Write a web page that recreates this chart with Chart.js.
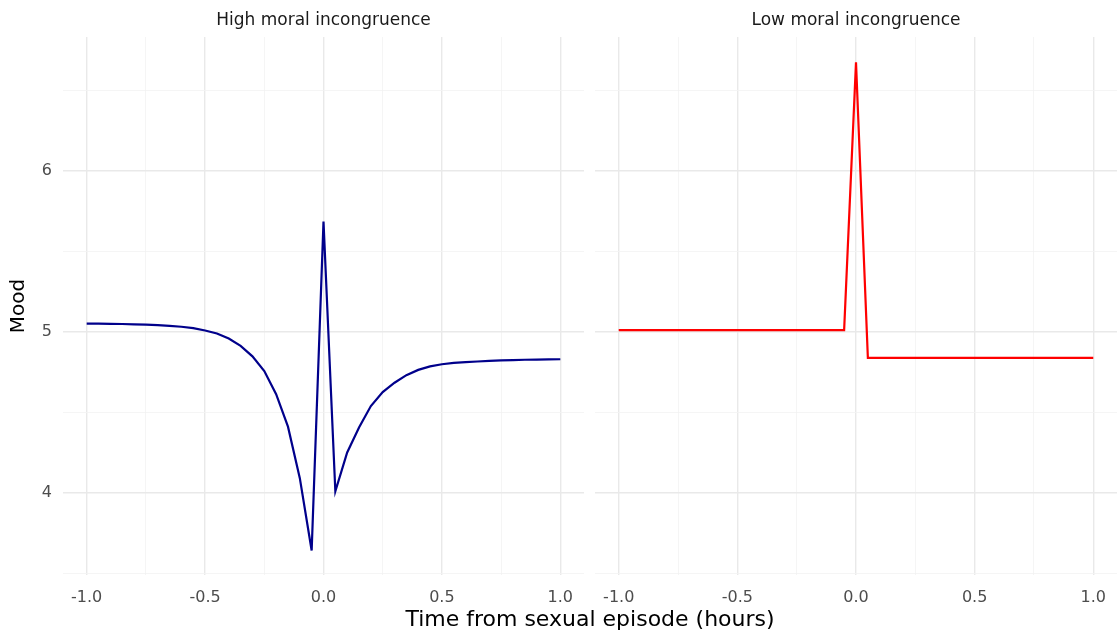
<!DOCTYPE html>
<html>
<head>
<meta charset="utf-8">
<script src="https://cdn.jsdelivr.net/npm/chart.js@4.4.1/dist/chart.umd.min.js"></script>
<style>
  html, body { margin: 0; padding: 0; background: #ffffff; }
  #wrap { position: relative; width: 1117px; height: 634px; overflow: hidden; }
  #cLeft { position: absolute; left: 0; top: 0; }
  #cRight { position: absolute; left: 595px; top: 0; }
  #xTitle { position: absolute; left: 63px; width: 1054px; top: 608px; text-align: center;
            font: 22px "DejaVu Sans", sans-serif; line-height: 22px; color: #000; white-space: nowrap; }
</style>
</head>
<body>
<div id="wrap">
  <canvas id="cLeft" width="584" height="634"></canvas>
  <canvas id="cRight" width="522" height="634"></canvas>
  <div id="xTitle">Time from sexual episode (hours)</div>
</div>
<script>
// ---- data ----
const panelTitles = ["High moral incongruence", "Low moral incongruence"];
const timeHours = [-1.00,-0.95,-0.90,-0.85,-0.80,-0.75,-0.70,-0.65,-0.60,-0.55,-0.50,-0.45,-0.40,-0.35,-0.30,-0.25,-0.20,-0.15,-0.10,-0.05,
                   0.00,0.05,0.10,0.15,0.20,0.25,0.30,0.35,0.40,0.45,0.50,0.55,0.60,0.65,0.70,0.75,0.80,0.85,0.90,0.95,1.00];
const moodHigh = [5.050,5.050,5.049,5.048,5.046,5.044,5.041,5.037,5.031,5.022,5.008,4.989,4.958,4.912,4.847,4.756,4.612,4.410,4.090,3.640,
                  5.685,4.008,4.250,4.405,4.538,4.625,4.683,4.730,4.763,4.785,4.798,4.806,4.811,4.815,4.819,4.822,4.824,4.826,4.827,4.828,4.829];
const moodLow  = [5.010,5.010,5.010,5.010,5.010,5.010,5.010,5.010,5.010,5.010,5.010,5.010,5.010,5.010,5.010,5.010,5.010,5.010,5.010,5.010,
                  6.675,4.838,4.838,4.838,4.838,4.838,4.838,4.838,4.838,4.838,4.838,4.838,4.838,4.838,4.838,4.838,4.838,4.838,4.838,4.838,4.838];
const xMajorTicks = [-1.0, -0.5, 0.0, 0.5, 1.0];
const yMajorTicks = [4, 5, 6];
const yAxisTitle = "Mood";

const X_MIN = -1.1, X_MAX = 1.1, Y_MIN = 3.488, Y_MAX = 6.832;
const FONT = '"DejaVu Sans", sans-serif';

function isMajorX(v) { return xMajorTicks.some(t => Math.abs(t - v) < 1e-9); }
function isMajorY(v) { return yMajorTicks.some(t => Math.abs(t - v) < 1e-9); }

const stripPlugin = {
  id: 'strip',
  afterDraw(chart, args, opts) {
    const {ctx, chartArea} = chart;
    ctx.save();
    ctx.font = '17px ' + FONT;
    ctx.fillStyle = '#1a1a1a';
    ctx.textAlign = 'center';
    ctx.textBaseline = 'middle';
    ctx.fillText(opts.text, (chartArea.left + chartArea.right) / 2, 21);
    ctx.restore();
  }
};

function makeChart(canvasId, values, color, title, showY) {
  const pts = timeHours.map((t, i) => ({x: t, y: values[i]}));
  return new Chart(document.getElementById(canvasId), {
    type: 'line',
    data: { datasets: [{ data: pts, borderColor: color, borderWidth: 2.2, pointRadius: 0, tension: 0, fill: false }] },
    options: {
      responsive: false, animation: false,
      layout: { padding: { top: 37, left: 0, right: 0, bottom: 0 } },
      plugins: { legend: { display: false }, tooltip: { enabled: false }, strip: { text: title } },
      scales: {
        x: {
          type: 'linear', min: X_MIN, max: X_MAX,
          border: { display: false },
          grid: {
            drawTicks: false,
            color: c => isMajorX(c.tick.value) ? '#e9e9e9' : '#f2f2f2',
            lineWidth: c => isMajorX(c.tick.value) ? 1.4 : 0.8
          },
          ticks: {
            stepSize: 0.25, includeBounds: false, autoSkip: false, maxRotation: 0,
            padding: 13, color: '#4d4d4d', font: { family: FONT, size: 16 },
            callback: v => isMajorX(v) ? v.toFixed(1) : ''
          },
          afterFit: s => { s.height = 59; s.paddingLeft = 0; s.paddingRight = 0; }
        },
        y: {
          min: Y_MIN, max: Y_MAX,
          border: { display: false },
          grid: {
            drawTicks: false,
            color: c => isMajorY(c.tick.value) ? '#e9e9e9' : '#f2f2f2',
            lineWidth: c => isMajorY(c.tick.value) ? 1.4 : 0.8
          },
          ticks: {
            display: showY, stepSize: 0.5, includeBounds: false,
            padding: 11, color: '#4d4d4d', font: { family: FONT, size: 16 },
            callback: v => isMajorY(v) ? String(v) : ''
          },
          title: {
            display: showY, text: yAxisTitle, color: '#000000',
            font: { family: FONT, size: 20 }, padding: { top: 7, bottom: 0 }
          },
          afterFit: s => { s.width = showY ? 63 : 0; s.paddingTop = 0; s.paddingBottom = 0; }
        }
      }
    },
    plugins: [stripPlugin]
  });
}

makeChart('cLeft', moodHigh, '#00008b', panelTitles[0], true);
makeChart('cRight', moodLow, '#ff0000', panelTitles[1], false);
</script>
</body>
</html>
